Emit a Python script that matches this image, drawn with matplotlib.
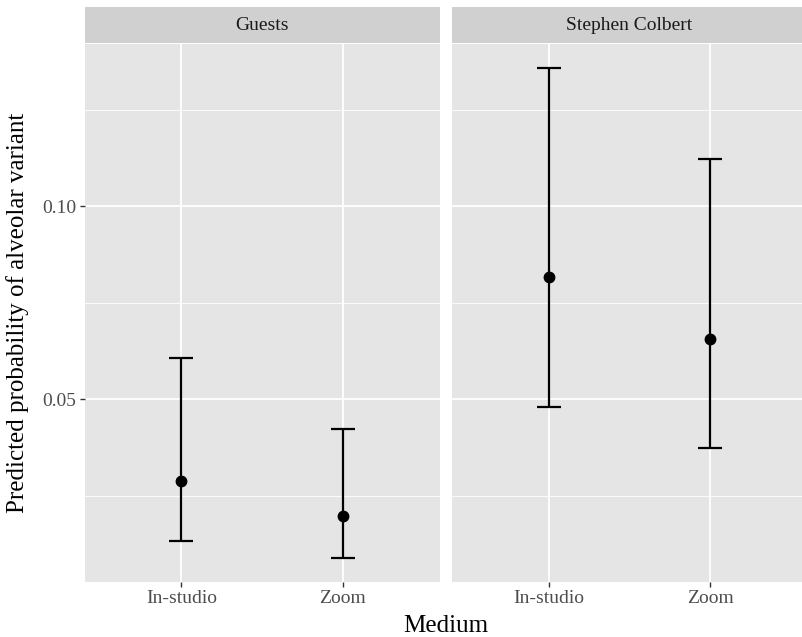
import matplotlib.pyplot as plt

plt.rcParams['font.family'] = ['Liberation Serif', 'DejaVu Serif']

# Data
speakers = ['Guests', 'Stephen Colbert']
media = ['In-studio', 'Zoom']
estimate = [[0.0288, 0.0197], [0.0816, 0.0656]]
lower = [[0.0133, 0.0090], [0.0479, 0.0374]]
upper = [[0.0608, 0.0424], [0.1358, 0.1122]]
major_ticks = [0.05, 0.10]
minor_ticks = [0.025, 0.075, 0.125]

# Layout in pixels
W, H = 802, 637
panel_left = [84.5, 452]
panel_w = 355
panel_top = 44
panel_bottom = 582
strip_top = 7
strip_bottom = 43

ylim = (0.00266, 0.1421)
panel_bg = '#e5e5e5'
strip_bg = '#d0d0d0'

fig = plt.figure(figsize=(W / 100, H / 100), dpi=100)

for i, name in enumerate(speakers):
    ax = fig.add_axes([panel_left[i] / W, (H - panel_bottom) / H,
                       panel_w / W, (panel_bottom - panel_top) / H])
    ax.set_facecolor(panel_bg)
    for s in ax.spines.values():
        s.set_visible(False)

    xs = list(range(len(media)))
    yerr = [[estimate[i][j] - lower[i][j] for j in xs],
            [upper[i][j] - estimate[i][j] for j in xs]]
    ax.errorbar(xs, estimate[i], yerr=yerr, fmt='o', color='black',
                ecolor='black', elinewidth=1.6, capsize=8.6, capthick=1.6,
                markersize=7.5, zorder=3)

    ax.set_xlim(-0.6, len(media) - 1 + 0.6)
    ax.set_ylim(*ylim)
    ax.set_xticks(xs)
    ax.set_xticklabels(media)
    ax.set_yticks(major_ticks)
    ax.set_yticks(minor_ticks, minor=True)
    ax.set_yticklabels([f"{t:.2f}" for t in major_ticks])

    ax.grid(True, which='major', color='white', linewidth=1.3, zorder=0)
    ax.grid(True, which='minor', axis='y', color='white', linewidth=0.6, zorder=0)
    ax.set_axisbelow(True)

    ax.tick_params(axis='both', which='major', length=3.5, width=1.0,
                   color='#333333', labelcolor='#4d4d4d', labelsize=14, pad=2.5)
    ax.tick_params(axis='y', which='minor', length=0)
    if i > 0:
        ax.tick_params(axis='y', which='major', length=0, labelleft=False)

    # facet strip
    st = fig.add_axes([panel_left[i] / W, (H - strip_bottom) / H,
                       panel_w / W, (strip_bottom - strip_top) / H])
    st.set_facecolor(strip_bg)
    st.set_xticks([])
    st.set_yticks([])
    for s in st.spines.values():
        s.set_visible(False)
    st.text(0.5, 0.5, name, ha='center', va='center', fontsize=14,
            color='#1a1a1a', transform=st.transAxes)

fig.text(18 / W, 1 - (panel_top + panel_bottom) / 2 / H,
         'Predicted probability of alveolar variant', rotation=90,
         ha='center', va='center', fontsize=18)
fig.text((panel_left[0] + panel_left[1] + panel_w) / 2 / W, 1 - 626 / H,
         'Medium', ha='center', va='center', fontsize=18)

fig.savefig('out.png', dpi=100, facecolor='white')
